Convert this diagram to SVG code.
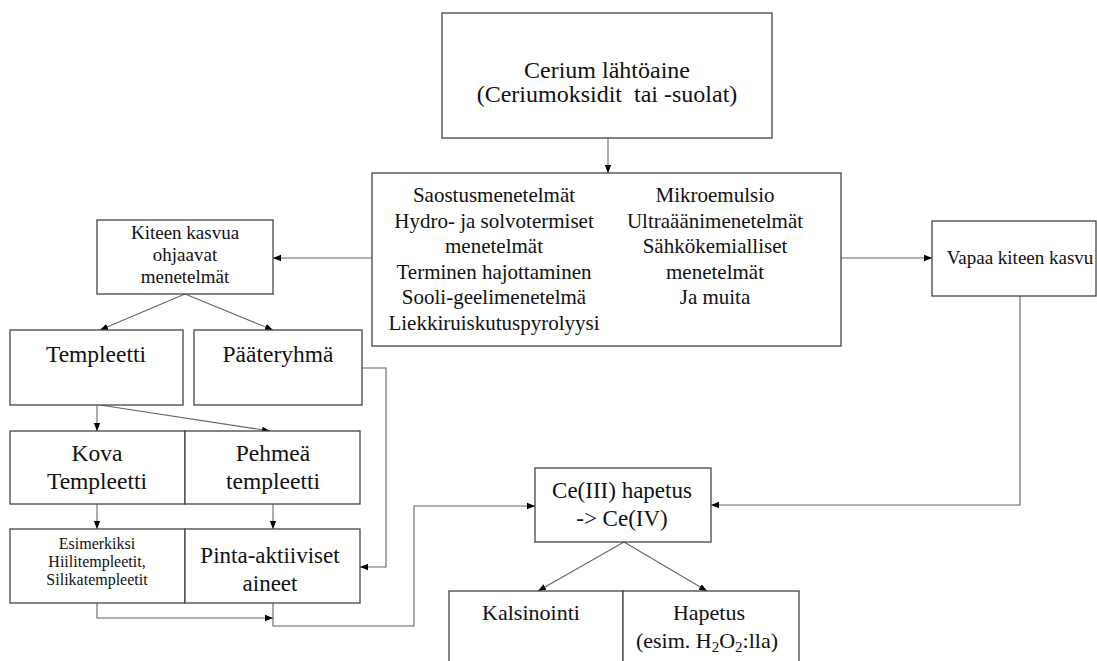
<svg xmlns="http://www.w3.org/2000/svg" width="1097" height="661" viewBox="0 0 1097 661">
<defs>
<marker id="ah" viewBox="0 0 10 10" refX="10" refY="5" markerWidth="8" markerHeight="8" markerUnits="userSpaceOnUse" orient="auto">
<path d="M0,1 L10,5 L0,9 z" fill="#000"/>
</marker>
<style>
.box{fill:#fff;stroke:#444;stroke-width:1.3}
.t{font-family:"Liberation Serif","Times New Roman",serif;fill:#111;text-anchor:middle}
.c{fill:none;stroke:#666;stroke-width:1.1;marker-end:url(#ah)}
</style>
</defs>
<rect width="1097" height="661" fill="#fff"/>
<g id="connectors">
<path class="c" d="M608,138 V173"/>
<path class="c" d="M372,258 H273"/>
<path class="c" d="M841,258 H932"/>
<path class="c" d="M185,294 L100,330"/>
<path class="c" d="M185,294 L273,330"/>
<path class="c" d="M97,405 V431"/>
<path class="c" d="M100,405 L270,431"/>
<path class="c" d="M97,504 V529"/>
<path class="c" d="M273,504 V529"/>
<path class="c" d="M362,368 H386 V567 H360"/>
<path class="c" d="M97,603 V618 H273"/>
<path class="c" d="M273,603 V626 H414 V506 H535"/>
<path class="c" d="M1020,296 V505 H711"/>
<path class="c" d="M624,542 L538,591"/>
<path class="c" d="M624,542 L707,591"/>
</g>
<g id="cerium">
<rect class="box" x="442" y="13" width="330" height="125"/>
<text class="t" x="607" y="78" font-size="24">Cerium lähtöaine</text>
<text class="t" x="607" y="102" font-size="24" xml:space="preserve">(Ceriumoksidit  tai -suolat)</text>
</g>
<g id="methods">
<rect class="box" x="372" y="173" width="469" height="173"/>
<g font-size="21">
<text class="t" x="494" y="202">Saostusmenetelmät</text>
<text class="t" x="494" y="228">Hydro- ja solvotermiset</text>
<text class="t" x="494" y="253">menetelmät</text>
<text class="t" x="494" y="279">Terminen hajottaminen</text>
<text class="t" x="494" y="304">Sooli-geelimenetelmä</text>
<text class="t" x="494" y="330">Liekkiruiskutuspyrolyysi</text>
<text class="t" x="715" y="202">Mikroemulsio</text>
<text class="t" x="715" y="228">Ultraäänimenetelmät</text>
<text class="t" x="715" y="253">Sähkökemialliset</text>
<text class="t" x="715" y="279">menetelmät</text>
<text class="t" x="715" y="304">Ja muita</text>
</g>
</g>
<g id="kiteen">
<rect class="box" x="97" y="220" width="176" height="74"/>
<text class="t" x="185" y="239" font-size="19">Kiteen kasvua</text>
<text class="t" x="185" y="261" font-size="19">ohjaavat</text>
<text class="t" x="185" y="283" font-size="19">menetelmät</text>
</g>
<g id="vapaa">
<rect class="box" x="932" y="221" width="164" height="75"/>
<text class="t" x="1020" y="264" font-size="19">Vapaa kiteen kasvu</text>
</g>
<g id="templeetti">
<rect class="box" x="10" y="330" width="173" height="75"/>
<text class="t" x="96" y="362" font-size="23.5">Templeetti</text>
</g>
<g id="paateryhma">
<rect class="box" x="194" y="330" width="168" height="75"/>
<text class="t" x="278" y="362" font-size="23.5">Pääteryhmä</text>
</g>
<g id="kova">
<rect class="box" x="10" y="431" width="175" height="73"/>
<text class="t" x="97" y="461" font-size="23.5">Kova</text>
<text class="t" x="97" y="489" font-size="23.5">Templeetti</text>
</g>
<g id="pehmea">
<rect class="box" x="185" y="431" width="175" height="73"/>
<text class="t" x="273" y="461" font-size="23.5">Pehmeä</text>
<text class="t" x="273" y="489" font-size="23.5">templeetti</text>
</g>
<g id="esimerkiksi">
<rect class="box" x="10" y="529" width="175" height="74"/>
<text class="t" x="97" y="549" font-size="16">Esimerkiksi</text>
<text class="t" x="97" y="567" font-size="16">Hiilitempleetit,</text>
<text class="t" x="97" y="585" font-size="16">Silikatempleetit</text>
</g>
<g id="pinta">
<rect class="box" x="185" y="529" width="175" height="74"/>
<text class="t" x="270" y="563" font-size="23">Pinta-aktiiviset</text>
<text class="t" x="270" y="591" font-size="23">aineet</text>
</g>
<g id="ce">
<rect class="box" x="535" y="468" width="176" height="74"/>
<text class="t" x="622" y="498" font-size="23">Ce(III) hapetus</text>
<text class="t" x="622" y="526" font-size="23">-&gt; Ce(IV)</text>
</g>
<g id="kalsinointi">
<rect class="box" x="449" y="591" width="174" height="80"/>
<text class="t" x="531" y="620" font-size="22">Kalsinointi</text>
</g>
<g id="hapetus">
<rect class="box" x="623" y="591" width="176" height="80"/>
<text class="t" x="709" y="620" font-size="22">Hapetus</text>
<text class="t" x="707" y="648" font-size="22">(esim. H<tspan font-size="15" dy="4">2</tspan><tspan dy="-4">O</tspan><tspan font-size="15" dy="4">2</tspan><tspan dy="-4">:lla)</tspan></text>
</g>
</svg>
